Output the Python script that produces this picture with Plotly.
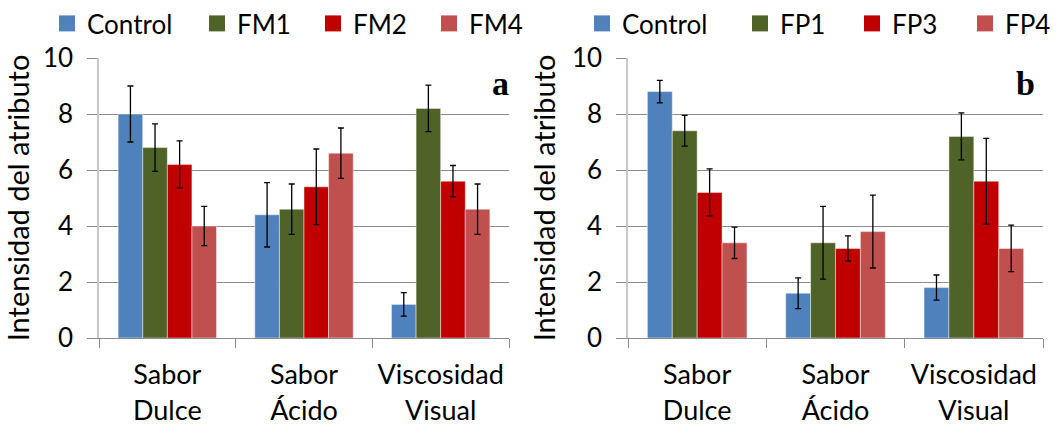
import plotly.graph_objects as go

categories = ["Sabor<br>Dulce", "Sabor<br>Ácido", "Viscosidad<br>Visual"]

# Panel a
series_a = ["Control", "FM1", "FM2", "FM4"]
values_a = [
    [8.0, 4.4, 1.2],
    [6.8, 4.6, 8.2],
    [6.2, 5.4, 5.6],
    [4.0, 6.6, 4.6],
]
errors_a = [
    [1.0, 1.15, 0.42],
    [0.85, 0.9, 0.83],
    [0.84, 1.35, 0.56],
    [0.7, 0.9, 0.9],
]

# Panel b
series_b = ["Control", "FP1", "FP3", "FP4"]
values_b = [
    [8.8, 1.6, 1.8],
    [7.4, 3.4, 7.2],
    [5.2, 3.2, 5.6],
    [3.4, 3.8, 3.2],
]
errors_b = [
    [0.4, 0.55, 0.45],
    [0.55, 1.3, 0.84],
    [0.84, 0.45, 1.53],
    [0.56, 1.3, 0.83],
]

y_ticks = [0, 2, 4, 6, 8, 10]
colors = ["#4F81BD", "#4F6228", "#C00000", "#C0504D"]
panel_labels = ["a", "b"]

W, H = 1057, 426
FONT = "Lato"

fig = go.Figure()

# legend text start positions (px)
legend_text_x = {
    1: [86, 236, 352, 468],
    2: [621, 779, 891, 1004],
}

legend_idx = 0
for p, (series, values, errors) in enumerate(
    [(series_a, values_a, errors_a), (series_b, values_b, errors_b)], start=1
):
    xa = "x" if p == 1 else "x2"
    ya = "y" if p == 1 else "y2"
    for i, name in enumerate(series):
        fig.add_trace(go.Bar(
            x=categories, y=values[i], name=name,
            marker=dict(color=colors[i], line=dict(color="rgba(255,255,255,0.45)", width=1)),
            error_y=dict(type="data", array=errors[i], color="black", thickness=1.3, width=3),
            xaxis=xa, yaxis=ya, showlegend=False,
        ))
    for i, name in enumerate(series):
        legend_idx += 1
        lname = "legend" if legend_idx == 1 else f"legend{legend_idx}"
        fig.add_trace(go.Scatter(
            x=[None], y=[None], mode="markers", name=name,
            marker=dict(symbol="square", size=16, color=colors[i]),
            xaxis=xa, yaxis=ya, showlegend=True, legend=lname,
        ))
        fig.update_layout({lname: dict(
            x=(legend_text_x[p][i] - 39) / W, xanchor="left",
            y=1.0, yanchor="top", orientation="h",
            bgcolor="rgba(0,0,0,0)", borderwidth=0,
            font=dict(family=FONT, size=26, color="black"),
            itemwidth=30, tracegroupgap=0,
        )})

grid_col = "#8C8C8C"
yb = 1 - 338 / H
yt = 1 - 58 / H
axis_common_y = dict(
    range=[0, 10], tickvals=y_ticks, showgrid=True, gridcolor=grid_col, gridwidth=1,
    showline=True, linecolor="#C8C8C8", linewidth=1.5, ticks="outside", ticklen=10,
    tickcolor=grid_col, tickfont=dict(family=FONT, size=26, color="black"),
    ticklabelstandoff=9, zeroline=False, domain=[yb, yt],
    title=dict(text="Intensidad del atributo", font=dict(family=FONT, size=29, color="black"), standoff=8),
)
axis_common_x = dict(
    showgrid=False, showline=True, linecolor=grid_col, linewidth=1,
    ticks="outside", tickson="boundaries", ticklen=9, tickcolor=grid_col,
    tickfont=dict(family=FONT, size=27, color="black"), ticklabelstandoff=13,
)

fig.update_layout(
    width=W, height=H,
    margin=dict(l=0, r=0, t=0, b=0, autoexpand=False),
    paper_bgcolor="white", plot_bgcolor="white",
    barmode="group", bargap=0.28, bargroupgap=0,
    xaxis=dict(domain=[99 / W, 509 / W], anchor="y", **axis_common_x),
    xaxis2=dict(domain=[628 / W, 1043 / W], anchor="y2", **axis_common_x),
    yaxis=dict(anchor="x", **axis_common_y),
    yaxis2=dict(anchor="x2", **axis_common_y),
    annotations=[
        dict(text="<b>%s</b>" % panel_labels[0], x=500 / W, y=1 - 84 / H, xref="paper", yref="paper",
             xanchor="center", yanchor="middle", showarrow=False,
             font=dict(family="Liberation Serif", size=34, color="black")),
        dict(text="<b>%s</b>" % panel_labels[1], x=1025 / W, y=1 - 84 / H, xref="paper", yref="paper",
             xanchor="center", yanchor="middle", showarrow=False,
             font=dict(family="Liberation Serif", size=34, color="black")),
    ],
)

fig.write_html("out.html", config={"displayModeBar": False},
               post_script="document.body.style.margin='0px';")
